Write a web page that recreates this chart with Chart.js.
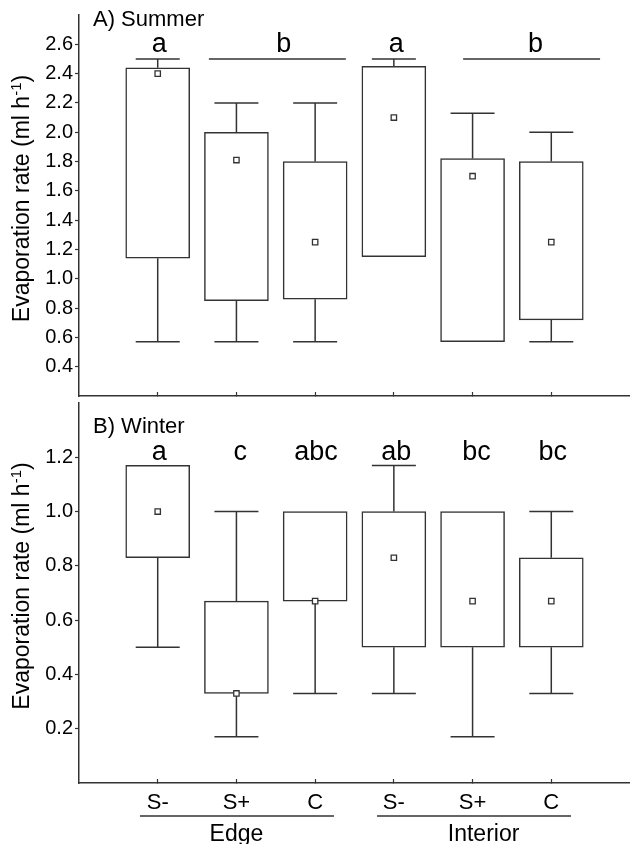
<!DOCTYPE html>
<html>
<head>
<meta charset="utf-8">
<script src="https://cdn.jsdelivr.net/npm/chart.js@4.4.1/dist/chart.umd.min.js"></script>
<style>
    body { margin: 0; background: #fff; }
    canvas { display: block; }
</style>
</head>
<body>
<canvas id="summer" width="630" height="400"></canvas>
<canvas id="winter" width="630" height="444"></canvas>
<script>
// data
var categories = ['S-', 'S+', 'C', 'S-', 'S+', 'C'];
var positions = [1, 2, 3, 4, 5, 6];

var summerMin = [0.57, 0.57, 0.57, 1.15, 0.57, 0.57];
var summerQ1 = [1.14, 0.85, 0.86, 1.15, 0.57, 0.72];
var summerMedian = [2.40, 1.81, 1.25, 2.10, 1.70, 1.25];
var summerQ3 = [2.44, 2.00, 1.80, 2.45, 1.82, 1.80];
var summerMax = [2.50, 2.20, 2.20, 2.50, 2.13, 2.00];
var summerTicks = [0.4, 0.6, 0.8, 1.0, 1.2, 1.4, 1.6, 1.8, 2.0, 2.2, 2.4, 2.6];

var winterMin = [0.50, 0.17, 0.33, 0.33, 0.17, 0.33];
var winterQ1 = [0.83, 0.33, 0.67, 0.50, 0.50, 0.50];
var winterMedian = [1.00, 0.33, 0.67, 0.83, 0.67, 0.67];
var winterQ3 = [1.17, 0.67, 1.00, 1.00, 1.00, 0.83];
var winterMax = [1.17, 1.00, 1.00, 1.17, 1.00, 1.00];
var winterTicks = [0.2, 0.4, 0.6, 0.8, 1.0, 1.2];

// significance letters
var summerLetters = ['a', 'b', 'a', 'b'];
var summerLetterX = [1.02, 2.6, 4.03, 5.8];
var summerLineFrom = [1.65, 4.88];
var summerLineTo = [3.39, 6.62];

var winterLetters = ['a', 'c', 'abc', 'ab', 'bc', 'bc'];
var winterLetterX = [1.02, 2.05, 3.01, 4.03, 5.05, 6.02];

// groups under x axis
var groups = ['Edge', 'Interior'];
var groupFrom = [0.775, 3.786];
var groupTo = [3.24, 6.25];
var groupTextX = [2.0, 5.14];

var lineColor = '#333333';
var fontFamily = '"Liberation Sans", Arial, sans-serif';
Chart.defaults.font.family = fontFamily;

function boxData(mins, q1s, meds, q3s, maxs) {
    var boxes = [], whiskers = [], caps = [], medians = [];
    positions.forEach(function (x, i) {
        boxes.push({ x: x, y: [q1s[i], q3s[i]] });
        medians.push({ x: x, y: meds[i] });
        if (mins[i] < q1s[i]) {
            whiskers.push({ x: x, y: mins[i] }, { x: x, y: q1s[i] }, { x: x, y: null });
            caps.push({ x: x, y: mins[i] });
        }
        if (maxs[i] > q3s[i]) {
            whiskers.push({ x: x, y: q3s[i] }, { x: x, y: maxs[i] }, { x: x, y: null });
            caps.push({ x: x, y: maxs[i] });
        }
    });
    return { boxes: boxes, whiskers: whiskers, caps: caps, medians: medians };
}

// text drawn on top: panel title, letters, y title, groups
function panelText(cfg) {
    return {
        id: 'panelText',
        afterDatasetsDraw: function (chart) {
            var ctx = chart.ctx, xs = chart.scales.x, ys = chart.scales.y, area = chart.chartArea;
            ctx.save();
            ctx.fillStyle = '#000';
            ctx.strokeStyle = lineColor;
            ctx.lineWidth = 1.5;

            ctx.font = '22px ' + fontFamily;
            ctx.textAlign = 'left';
            ctx.textBaseline = 'alphabetic';
            ctx.fillText(cfg.title, 93, cfg.titleY);

            ctx.font = '27px ' + fontFamily;
            ctx.textAlign = 'center';
            cfg.letters.forEach(function (t, i) {
                ctx.fillText(t, xs.getPixelForValue(cfg.letterX[i]), ys.getPixelForValue(cfg.letterY));
            });
            (cfg.lineFrom || []).forEach(function (from, i) {
                var py = ys.getPixelForValue(cfg.lineY);
                ctx.beginPath();
                ctx.moveTo(xs.getPixelForValue(from), py);
                ctx.lineTo(xs.getPixelForValue(cfg.lineTo[i]), py);
                ctx.stroke();
            });

            // y title with superscript
            var main = 'Evaporation rate (ml h', sup = '-1', end = ')';
            ctx.font = '23px ' + fontFamily;
            var wMain = ctx.measureText(main).width, wEnd = ctx.measureText(end).width;
            ctx.font = '15px ' + fontFamily;
            var wSup = ctx.measureText(sup).width;
            var start = -(wMain + wSup + wEnd) / 2;
            ctx.translate(28.5, (area.top + area.bottom) / 2 - 7);
            ctx.rotate(-Math.PI / 2);
            ctx.textAlign = 'left';
            ctx.font = '23px ' + fontFamily;
            ctx.fillText(main, start, 0);
            ctx.fillText(end, start + wMain + wSup, 0);
            ctx.font = '15px ' + fontFamily;
            ctx.fillText(sup, start + wMain, -8);
            ctx.setTransform(1, 0, 0, 1, 0, 0);

            if (cfg.groups) {
                ctx.font = '23px ' + fontFamily;
                ctx.textAlign = 'center';
                cfg.groups.forEach(function (g, i) {
                    var ly = area.bottom + 33;
                    ctx.beginPath();
                    ctx.moveTo(xs.getPixelForValue(groupFrom[i]), ly);
                    ctx.lineTo(xs.getPixelForValue(groupTo[i]), ly);
                    ctx.stroke();
                    ctx.fillText(g, xs.getPixelForValue(groupTextX[i]), area.bottom + 58);
                });
            }
            ctx.restore();
        }
    };
}

function createPanel(id, d, yMin, yMax, ticks, cfg) {
    var ctx = document.getElementById(id);
    return new Chart(ctx, {
        type: 'bar',
        data: {
            datasets: [{
                type: 'scatter',
                data: d.medians,
                pointStyle: 'rect',
                radius: 3.8,
                backgroundColor: '#ffffff',
                borderColor: lineColor,
                borderWidth: 1.3,
                clip: false,
                order: 0
            }, {
                type: 'scatter',
                data: d.caps,
                pointStyle: 'line',
                radius: 22,
                borderColor: lineColor,
                borderWidth: 1.5,
                clip: false,
                order: 1
            }, {
                type: 'bar',
                data: d.boxes,
                backgroundColor: '#ffffff',
                borderColor: lineColor,
                borderWidth: 1.5,
                borderSkipped: false,
                barThickness: 64,
                order: 2
            }, {
                type: 'line',
                data: d.whiskers,
                borderColor: lineColor,
                borderWidth: 1.5,
                pointRadius: 0,
                spanGaps: false,
                order: 3
            }]
        },
        options: {
            responsive: false,
            animation: false,
            events: [],
            layout: { autoPadding: false, padding: { top: cfg.padTop, left: 0, right: 0, bottom: 0 } },
            plugins: { legend: { display: false }, tooltip: { enabled: false } },
            scales: {
                x: {
                    type: 'linear',
                    min: 0,
                    max: 7,
                    offset: false,
                    afterBuildTicks: function (s) { s.ticks = positions.map(function (v) { return { value: v }; }); },
                    afterFit: function (s) { s.height = cfg.xHeight; s.paddingLeft = 0; s.paddingRight = 0; },
                    border: { display: true, color: lineColor, width: 1.5 },
                    grid: { drawOnChartArea: false, offset: false, tickLength: -4, tickColor: lineColor, tickWidth: 1.2 },
                    ticks: {
                        display: cfg.xLabels,
                        padding: 11,
                        color: '#000',
                        font: { size: 22 },
                        callback: function (v, i) { return categories[i]; }
                    }
                },
                y: {
                    type: 'linear',
                    min: yMin,
                    max: yMax,
                    afterBuildTicks: function (s) { s.ticks = ticks.map(function (v) { return { value: v }; }); },
                    afterFit: function (s) { s.width = 79; s.paddingTop = 0; s.paddingBottom = 0; },
                    border: { display: true, color: lineColor, width: 1.5 },
                    grid: { drawOnChartArea: false, tickLength: 4, tickColor: lineColor, tickWidth: 1.2 },
                    ticks: {
                        padding: 2,
                        color: '#000',
                        font: { size: 20 },
                        callback: function (v) { return Number(v).toFixed(1); }
                    }
                }
            }
        },
        plugins: [panelText(cfg)]
    });
}

var summerChart = createPanel('summer',
    boxData(summerMin, summerQ1, summerMedian, summerQ3, summerMax), 0.2, 2.8, summerTicks, {
        padTop: 15, xHeight: 4, xLabels: false,
        title: 'A) Summer', titleY: 26,
        letters: summerLetters, letterX: summerLetterX, letterY: 2.55,
        lineFrom: summerLineFrom, lineTo: summerLineTo, lineY: 2.5
    });

var winterChart = createPanel('winter',
    boxData(winterMin, winterQ1, winterMedian, winterQ3, winterMax), 0, 1.4, winterTicks, {
        padTop: 3, xHeight: 61, xLabels: true,
        title: 'B) Winter', titleY: 33,
        letters: winterLetters, letterX: winterLetterX, letterY: 1.19,
        groups: groups
    });
</script>
</body>
</html>
